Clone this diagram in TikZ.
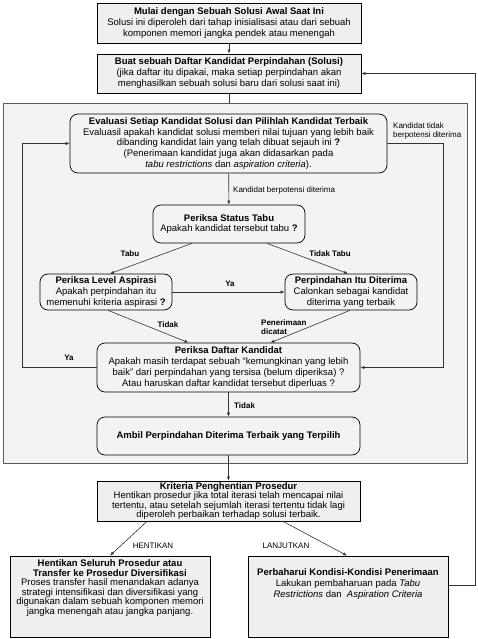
\documentclass[tikz,border=0pt]{standalone}
\usepackage{fontspec}
\setmainfont{Liberation Sans}
\usetikzlibrary{arrows.meta,calc}
\definecolor{boxfill}{HTML}{EFEFEF}
\definecolor{framefill}{HTML}{F3F3F3}
\definecolor{framedraw}{HTML}{5A5A5A}
\definecolor{linecol}{HTML}{333333}
\begin{document}
\begin{tikzpicture}[x=1pt,y=-1pt,
  sqbox/.style={draw=black, line width=0.8pt, fill=boxfill, inner sep=0pt, align=center, font=\fontsize{9.5}{11}\selectfont},
  rbox/.style={draw=black, line width=0.7pt, fill=framefill, rounded corners=8pt, inner sep=0pt, align=center, font=\fontsize{9.5}{10.8}\selectfont},
  txt/.style={inner sep=0pt, align=center, font=\fontsize{9.5}{10}\selectfont},
  lbl/.style={inner sep=0pt, align=center, font=\fontsize{8}{9.5}\selectfont},
  blbl/.style={inner sep=0pt, align=center, font=\fontsize{8}{9.5}\selectfont\bfseries},
  conn/.style={draw=linecol, line width=0.6pt},
  arr/.style={conn, -{Latex[length=4pt,width=3.2pt]}},
  frame/.style={draw=framedraw, line width=0.9pt, fill=framefill, inner sep=0pt}
]
\useasboundingbox (0,0) rectangle (477,639);
\fill[white] (0,0) rectangle (477,639);

% outer frame of the inner loop
\node[frame, minimum width=464pt, minimum height=360pt] (frm) at (235,283) {};

% top boxes
\node[sqbox, minimum width=264pt, minimum height=40pt] (start) at (229,23)
  {\textbf{Mulai dengan Sebuah Solusi Awal Saat Ini}\\
   Solusi ini diperoleh dari tahap inisialisasi atau dari sebuah\\
   komponen memori jangka pendek atau menengah};
\node[sqbox, minimum width=264pt, minimum height=39pt] (list) at (229,73.5)
  {\textbf{Buat sebuah Daftar Kandidat Perpindahan (Solusi)}\\
   (jika daftar itu dipakai, maka setiap perpindahan akan\\
   menghasilkan sebuah solusi baru dari solusi saat ini)};

% inner boxes
\node[rbox, minimum width=317pt, minimum height=59pt] (ev) at (228.5,143.5)
  {\textbf{Evaluasi Setiap Kandidat Solusi dan Pilihlah Kandidat Terbaik}\\
   Evaluasil apakah kandidat solusi memberi nilai tujuan yang lebih baik\\
   dibanding kandidat lain yang telah dibuat sejauh ini \textbf{?}\\
   (Penerimaan kandidat juga akan didasarkan pada\\
   \textit{tabu restrictions} dan \textit{aspiration criteria}).};
\node[rbox, minimum width=152pt, minimum height=38pt] (st) at (229,224)
  {\textbf{Periksa Status Tabu}\\
   Apakah kandidat tersebut tabu \textbf{?}};
\node[rbox, minimum width=132pt, minimum height=36pt] (asp) at (106,292)
  {\textbf{Periksa Level Aspirasi}\\
   Apakah perpindahan itu\\
   memenuhi kriteria aspirasi \textbf{?}};
\node[rbox, minimum width=132pt, minimum height=36pt] (acc) at (351,292)
  {\textbf{Perpindahan Itu Diterima}\\
   Calonkan sebagai kandidat\\
   diterima yang terbaik};
\node[rbox, minimum width=263pt, minimum height=49pt] (pd) at (228.5,367.5)
  {\textbf{Periksa Daftar Kandidat}\\
   Apakah masih terdapat sebuah ``kemungkinan yang lebih\\
   baik'' dari perpindahan yang tersisa (belum diperiksa) ?\\
   Atau haruskan daftar kandidat tersebut diperluas ?};
\node[rbox, minimum width=263pt, minimum height=38pt] (amb) at (228.5,436)
  {\textbf{Ambil Perpindahan Diterima Terbaik yang Terpilih}};

% bottom boxes
\node[sqbox, minimum width=263pt, minimum height=40pt, font=\fontsize{9.5}{9.3}\selectfont] (kr) at (228.5,501)
  {\textbf{Kriteria Penghentian Prosedur}\\
   Hentikan prosedur jika total iterasi telah mencapai nilai\\
   tertentu, atau setelah sejumlah iterasi tertentu tidak lagi\\
   diperoleh perbaikan terhadap solusi terbaik.};
\node[sqbox, minimum width=200pt, minimum height=81pt] (hen) at (110,596.5) {};
\node[txt, font=\fontsize{9.5}{9.6}\selectfont] (hentxt) at (110,588)
  {\textbf{Hentikan Seluruh Prosedur atau}\\
   \textbf{Transfer ke Prosedur Diversifikasi}\\
   Proses transfer hasil menandakan adanya\\
   strategi intensifikasi dan diversifikasi yang\\
   digunakan dalam sebuah komponen memori\\
   jangka menengah atau jangka panjang.};
\node[sqbox, minimum width=200pt, minimum height=81pt] (per) at (348,596.5) {};
\node[txt, font=\fontsize{9.5}{11}\selectfont] (pertxt) at (348,584)
  {\textbf{Perbaharui Kondisi-Kondisi Penerimaan}\\
   Lakukan pembaharuan pada \textit{Tabu}\\
   \textit{Restrictions} dan\ \ \textit{Aspiration Criteria}};

% coordinates for bends
\coordinate (rloop) at (443,367.5);
\coordinate (lloop) at (22,143.5);
\coordinate (fbk) at (475,73.5);

% connectors
\draw[arr] (start) -- (list);
\draw[conn] (list.south) -- (frm.north -| list.south);
\draw[arr] (ev) -- (st);
\draw[arr] ([xshift=-37pt]st.south) -- ([xshift=4pt]asp.north);
\draw[arr] ([xshift=38pt]st.south) -- ([xshift=-3pt]acc.north);
\draw[arr] (asp) -- (acc);
\draw[arr] ([xshift=2pt]asp.south) -- ([xshift=-40pt]pd.north);
\draw[arr] ([xshift=-1pt]acc.south) -- ([xshift=42pt]pd.north);
\draw[arr] (ev.east) -| (rloop) -- (pd.east);
\draw[arr] (pd.west) -| (lloop) -- (ev.west);
\draw[arr] (pd) -- (amb);
\draw[arr] (amb) -- (kr);
\draw[arr] ([xshift=-81.5pt]kr.south) -- (hen.north);
\draw[arr] ([xshift=54.5pt]kr.south) -- ([xshift=-1pt]per.north);
\draw[arr] ([yshift=11.5pt]per.east) -| (fbk) -- (list.east);

% labels
\node[lbl, anchor=west, align=left] (l1) at (393,131) {Kandidat tidak\\berpotensi diterima};
\node[lbl, anchor=west] (l2) at (233,190) {Kandidat berpotensi diterima};
\node[blbl] (l3) at (130,254) {Tabu};
\node[blbl] (l4) at (330,254) {Tidak Tabu};
\node[blbl] (l5) at (230,284) {Ya};
\node[blbl] (l6) at (168,325) {Tidak};
\node[blbl, align=left, anchor=west] (l7) at (261,327) {Penerimaan\\dicatat};
\node[blbl] (l8) at (69,358) {Ya};
\node[blbl, anchor=west] (l9) at (234,406) {Tidak};
\node[lbl] (l10) at (153,546) {HENTIKAN};
\node[lbl] (l11) at (286,546) {LANJUTKAN};
\end{tikzpicture}
\end{document}
